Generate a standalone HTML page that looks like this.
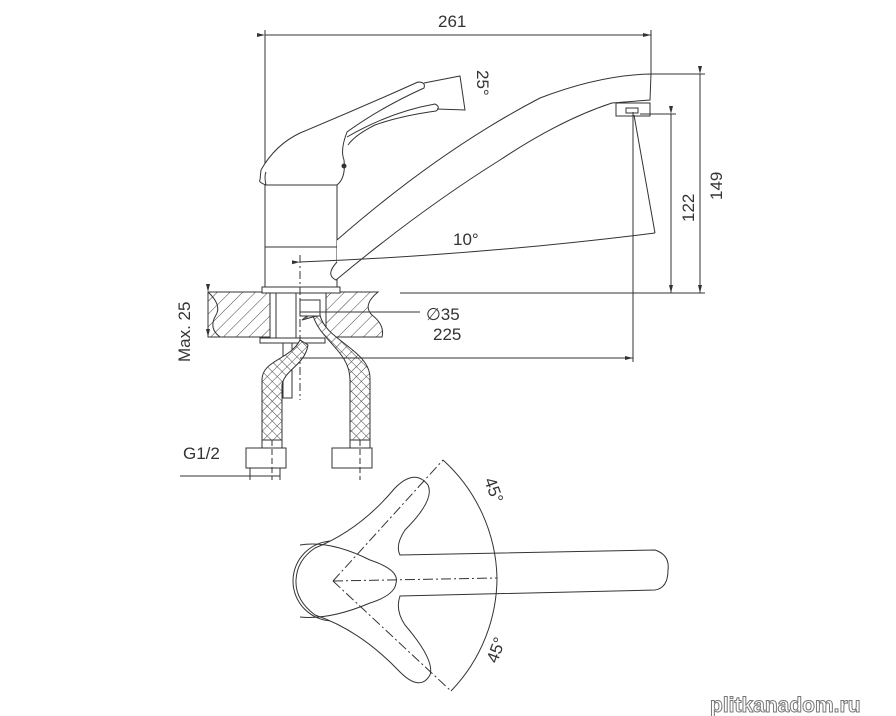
<!DOCTYPE html>
<html><head><style>
html,body{margin:0;padding:0;background:#fff;}
svg{display:block;}
text{font-family:"Liberation Sans",sans-serif;fill:#333;}
</style></head><body>
<svg width="896" height="716" viewBox="0 0 896 716" xmlns="http://www.w3.org/2000/svg">
<defs>
<pattern id="hatch" width="9" height="9" patternUnits="userSpaceOnUse" patternTransform="rotate(45)">
<line x1="0" y1="0" x2="0" y2="9" stroke="#444" stroke-width="1"/>
</pattern>
<pattern id="mesh" width="7" height="7" patternUnits="userSpaceOnUse" patternTransform="rotate(45)">
<rect width="7" height="7" fill="#fff"/>
<line x1="0" y1="0" x2="0" y2="7" stroke="#444" stroke-width="1"/>
<line x1="0" y1="0" x2="7" y2="0" stroke="#444" stroke-width="1"/>
</pattern>
<marker id="ar" markerWidth="8" markerHeight="6" refX="8" refY="3" orient="auto"><path d="M0,1 L8,3 L0,5 z" fill="#333"/></marker>
</defs>
<g stroke="#333" stroke-width="1" fill="none">
<line x1="265" y1="35" x2="651" y2="35" marker-start="url(#ar)" marker-end="url(#ar)"/>
<line x1="265" y1="30" x2="265" y2="185"/>
<line x1="651" y1="30" x2="651" y2="74"/>
<path d="M208,292 H270 V337 H208 Z" fill="url(#hatch)"/>
<path d="M326,292 H378 Q362,305 372,315 Q385,325 382,337 H326 Z" fill="url(#hatch)"/>
<path d="M208,292 Q222,305 216,315 Q208,328 220,337" />
<line x1="208" y1="292" x2="208" y2="337" marker-start="url(#ar)" marker-end="url(#ar)"/>
<rect x="262" y="287" width="78" height="6" fill="#fff"/>
<rect x="265" y="185" width="72" height="102" fill="#fff"/>
<line x1="265" y1="247" x2="337" y2="247"/>
<!-- handle -->
<path d="M260,180 L261,170 Q275,145 300,133 Q360,108 418,82 Q426,82 424,88 Q380,108 347,132 Q340,150 344,160 Q346,178 337,185 L266,185 Q258,182 260,180 Z" fill="#fff"/>
<path d="M347,137 Q390,112 435,104 Q441,107 436,111 Q400,116 375,125 Q355,135 348,145"/>
<path d="M424,83 L460,76 L465,110 L437,109"/>
<path d="M266,185 Q264,176 266,172"/>
<circle cx="344" cy="166" r="2" fill="#333"/>
<rect x="276" y="293" width="20" height="45"/>
<rect x="260" y="338" width="65" height="5" fill="#fff"/>
<rect x="283" y="343" width="9" height="55" fill="#fff"/>
<line x1="300" y1="255" x2="300" y2="400" stroke-dasharray="8,3,2,3"/>
<path d="M300,340 C290,360 262,360 262,380 L262,440 L282,440 L282,385 C284,370 305,365 308,345 Z" fill="url(#mesh)"/>
<path d="M302,320 L312,312 C318,340 350,350 350,380 L350,440 L370,440 L370,378 C370,350 325,340 320,315 Z" fill="url(#mesh)"/>
<rect x="300" y="300" width="20" height="16" fill="#fff"/>
<rect x="262" y="440" width="20" height="8" fill="#fff"/>
<rect x="350" y="440" width="20" height="8" fill="#fff"/>
<path d="M246,448 H286 V468 H246 Z" fill="#fff"/>
<path d="M332,448 H372 V468 H332 Z" fill="#fff"/>
<line x1="272" y1="440" x2="272" y2="480" stroke-dasharray="6,3"/>
<line x1="360" y1="440" x2="360" y2="480" stroke-dasharray="6,3"/>
<line x1="180" y1="476" x2="280" y2="476"/>
<line x1="250" y1="468" x2="250" y2="480"/><line x1="280" y1="468" x2="280" y2="480"/>
<path d="M337,262 Q325,275 336,280 Q420,210 500,160 Q560,120 612,103 L650,100 L651,74 Q600,75 540,98 Q440,150 337,240" fill="#fff"/>
<rect x="616" y="103" width="34" height="13" fill="#fff"/>
<rect x="626" y="108" width="12" height="5"/>
<line x1="651" y1="74" x2="705" y2="74"/>
<line x1="640" y1="114" x2="676" y2="114"/>
<line x1="400" y1="293" x2="705" y2="293"/>
<line x1="700" y1="74" x2="700" y2="293" marker-start="url(#ar)" marker-end="url(#ar)"/>
<line x1="671" y1="114" x2="671" y2="293" marker-start="url(#ar)" marker-end="url(#ar)"/>
<line x1="633" y1="112" x2="633" y2="362"/>
<line x1="634" y1="115" x2="655" y2="233"/>
<path d="M300,262 Q480,255 655,233" marker-start="url(#ar)"/>
<line x1="300" y1="312" x2="420" y2="312"/>
<line x1="300" y1="358" x2="633" y2="358" marker-end="url(#ar)"/>
<!-- top view -->
<path d="M333,541 A40,40 0 1,0 333,621" />
<path d="M315,548 Q360,530 395,488 Q415,468 428,485 Q435,500 405,530 Q395,545 400,555 L655,550 Q670,555 668,570 Q668,588 655,590 L400,596 Q395,610 405,625 Q435,660 430,675 Q420,692 400,672 Q360,630 315,615 Q295,600 296,580 Q297,560 315,548 Z" fill="#fff"/>
<path d="M300,545 Q330,540 370,560 Q400,570 396,583 Q395,595 370,603 Q330,620 300,617" />
<line x1="333" y1="581" x2="497" y2="578" stroke-dasharray="10,3,2,3"/>
<line x1="333" y1="581" x2="443" y2="460" stroke-dasharray="10,3,2,3"/>
<line x1="333" y1="581" x2="451" y2="691" stroke-dasharray="10,3,2,3"/>
<path d="M443,460 A164,164 0 0,1 497,578 A164,164 0 0,1 451,691"/>
</g>
<text x="438" y="27" font-size="17">261</text>
<text x="0" y="0" font-size="17" transform="translate(477,70) rotate(90)">25°</text>
<text x="453" y="245" font-size="17">10°</text>
<text x="0" y="0" font-size="17" transform="translate(694,222) rotate(-90)">122</text>
<text x="0" y="0" font-size="17" transform="translate(722,200) rotate(-90)">149</text>
<text x="426" y="320" font-size="17">∅35</text>
<text x="433" y="340" font-size="17">225</text>
<text x="0" y="0" font-size="17" transform="translate(190,362) rotate(-90)">Max. 25</text>
<text x="183" y="459" font-size="17">G1/2</text>
<text x="0" y="0" font-size="17" transform="translate(484,480) rotate(70)">45°</text>
<text x="0" y="0" font-size="17" transform="translate(497,664) rotate(-70)">45°</text>
<text x="710" y="712" font-size="21" font-weight="bold" style="fill:#fff;stroke:#777;stroke-width:1">plitkanadom.ru</text>
</svg>
</body></html>
